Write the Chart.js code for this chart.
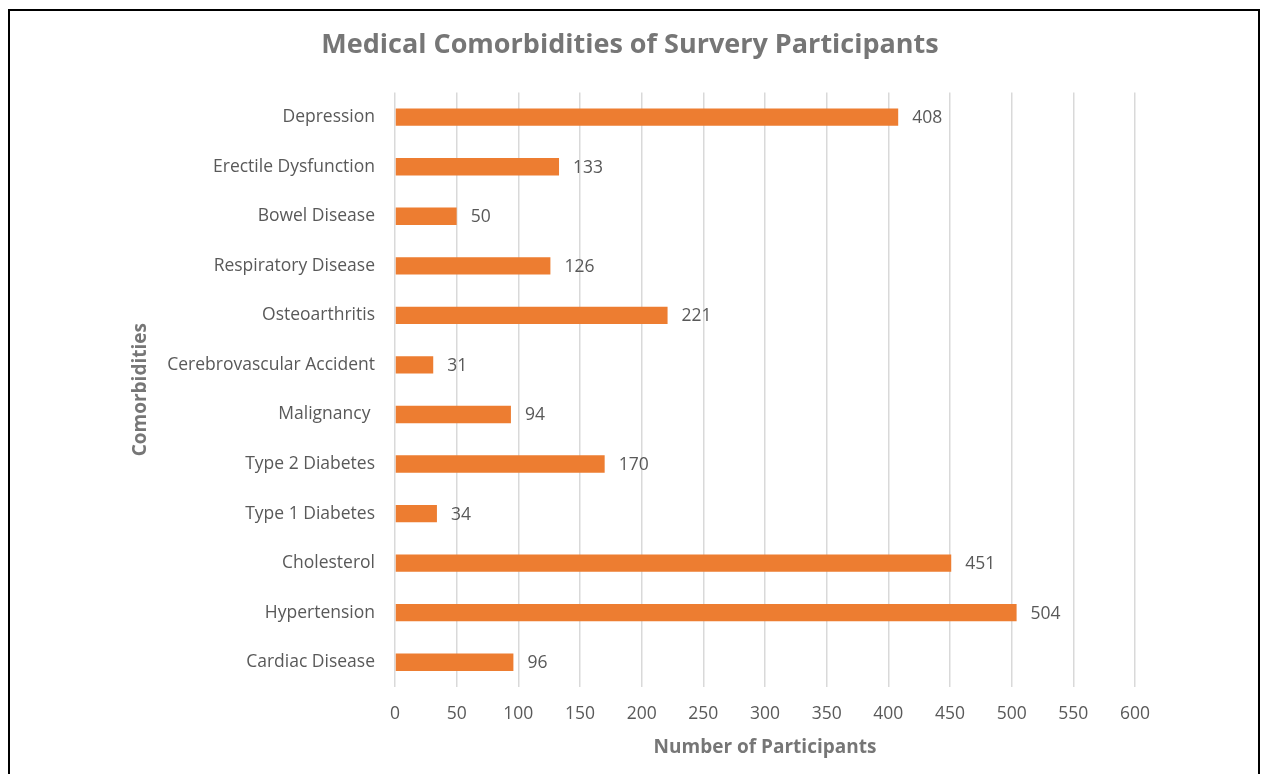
<!DOCTYPE html>
<html>
<head>
<meta charset="utf-8">
<script src="https://cdn.jsdelivr.net/npm/chart.js@4.4.1/dist/chart.umd.min.js"></script>
<style>
  html, body { margin: 0; padding: 0; background: #fff; overflow: hidden; }
  #wrap { position: relative; width: 1261px; height: 774px; }
  #frame { position: absolute; left: 8px; top: 9px; width: 1248px; height: 800px;
           border: 2px solid #000; border-bottom: none; pointer-events: none; }
</style>
</head>
<body>
<div id="wrap">
  <canvas id="chart" width="1261" height="774"></canvas>
  <div id="frame"></div>
</div>
<script>
// Data (top to bottom)
const categories = [
  'Depression', 'Erectile Dysfunction', 'Bowel Disease', 'Respiratory Disease',
  'Osteoarthritis', 'Cerebrovascular Accident', 'Malignancy ', 'Type 2 Diabetes',
  'Type 1 Diabetes', 'Cholesterol', 'Hypertension', 'Cardiac Disease'
];
const participants = [408, 133, 50, 126, 221, 31, 94, 170, 34, 451, 504, 96];
const xTicks = [0, 50, 100, 150, 200, 250, 300, 350, 400, 450, 500, 550, 600];

const FONT = "'Open Sans', 'DejaVu Sans', sans-serif";
const TEXT = '#595959';
const TITLE = '#767676';

// value labels just past the end of each bar
const barLabels = {
  id: 'barLabels',
  afterDatasetsDraw(chart) {
    const ctx = chart.ctx;
    const meta = chart.getDatasetMeta(0);
    ctx.save();
    ctx.font = '17.5px ' + FONT;
    ctx.fillStyle = TEXT;
    ctx.textAlign = 'left';
    ctx.textBaseline = 'middle';
    meta.data.forEach((bar, i) => {
      ctx.fillText(String(participants[i]), bar.x + 14, bar.y + 1);
    });
    ctx.restore();
  }
};

new Chart(document.getElementById('chart').getContext('2d'), {
  type: 'bar',
  data: {
    labels: categories,
    datasets: [{
      label: 'Number of Participants',
      data: participants,
      backgroundColor: '#ED7D31',
      borderWidth: 0,
      categoryPercentage: 1,
      barPercentage: 0.35
    }]
  },
  options: {
    indexAxis: 'y',
    responsive: false,
    animation: false,
    layout: { padding: { top: 20, left: 125, right: 126, bottom: 0 } },
    plugins: {
      legend: { display: false },
      tooltip: { enabled: false },
      title: {
        display: true,
        text: 'Medical Comorbidities of Survery Participants',
        color: TITLE,
        font: { family: FONT, size: 27, weight: 'bold' },
        padding: { top: 9, bottom: 31 }
      }
    },
    scales: {
      x: {
        min: 0,
        max: 600,
        afterBuildTicks: (scale) => { scale.ticks = xTicks.map(v => ({ value: v })); },
        afterFit: (scale) => { scale.height = 87; },
        grid: { color: '#d9d9d9', lineWidth: 1.5, drawTicks: false },
        border: { display: false },
        ticks: { color: TEXT, padding: 17, font: { family: FONT, size: 17.5 } },
        title: {
          display: true,
          text: 'Number of Participants',
          color: TITLE,
          font: { family: FONT, size: 19, weight: 'bold' },
          padding: { top: 4, bottom: 15 }
        }
      },
      y: {
        afterFit: (scale) => { scale.width = 270; },
        grid: { display: false, drawTicks: false },
        border: { display: false },
        ticks: { color: TEXT, padding: 20, font: { family: FONT, size: 17.5 } },
        title: {
          display: true,
          text: 'Comorbidities',
          color: TITLE,
          font: { family: FONT, size: 19, weight: 'bold' },
          padding: { top: 4, bottom: 4 }
        }
      }
    }
  },
  plugins: [barLabels]
});
</script>
</body>
</html>
